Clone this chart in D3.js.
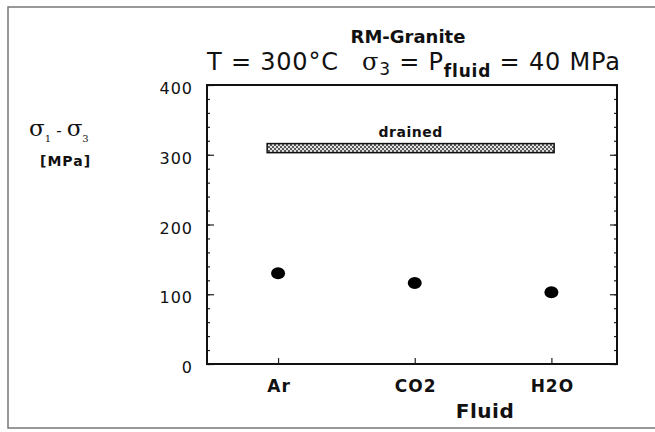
<!DOCTYPE html>
<html>
<head>
<meta charset="utf-8">
<script src="https://cdn.jsdelivr.net/npm/d3@7"></script>
<style>
  body { margin: 0; background: #fff; }
  svg text { font-family: "DejaVu Sans", "Liberation Sans", sans-serif; fill: #111; white-space: pre; }
</style>
</head>
<body>
<svg id="chart" width="655" height="432"></svg>
<script>
// data
var fluids = ["Ar", "CO2", "H2O"];
var strength = [130, 116, 103];      // sigma1 - sigma3 [MPa]
var drained = [303, 316];            // drained band, MPa
var drainedSpan = [-0.08, 2.02];     // in category units
var yTicks = [0, 100, 200, 300, 400];

var svg = d3.select("#chart");
var margin = {top: 85, right: 38, bottom: 68, left: 207},
    width = 655 - margin.left - margin.right,
    height = 432 - margin.top - margin.bottom;

// outer frame of the scanned figure
svg.append("rect")
    .attr("x", 8).attr("y", 7)
    .attr("width", 660).attr("height", 421)
    .attr("fill", "none")
    .attr("stroke", "#777")
    .attr("stroke-width", 1.5);

var defs = svg.append("defs");
var pat = defs.append("pattern")
    .attr("id", "hatch")
    .attr("patternUnits", "userSpaceOnUse")
    .attr("width", 4).attr("height", 4);
pat.append("rect").attr("width", 4).attr("height", 4).attr("fill", "#e4e4e4");
pat.append("path").attr("d", "M0,0L4,4M4,0L0,4").attr("stroke", "#4a4a4a").attr("stroke-width", 0.9);

var g = svg.append("g").attr("transform", "translate(" + margin.left + "," + margin.top + ")");

var x = d3.scaleLinear().domain([-0.52, 2.48]).range([0, width]);
var y = d3.scaleLinear().domain([0, 400]).range([height, 0]);

function noDomain(s) { s.select(".domain").remove(); }

// minor ticks on both y sides
var minor = d3.range(0, 401, 20);
g.append("g").call(d3.axisRight(y).tickValues(minor).tickSize(3).tickFormat("")).call(noDomain);
g.append("g").attr("transform", "translate(" + width + ",0)")
    .call(d3.axisLeft(y).tickValues(minor).tickSize(3).tickFormat("")).call(noDomain);

// major y ticks (inside) and labels
g.append("g").call(d3.axisRight(y).tickValues(yTicks).tickSize(7).tickFormat("")).call(noDomain);
g.append("g").attr("transform", "translate(" + width + ",0)")
    .call(d3.axisLeft(y).tickValues(yTicks).tickSize(7).tickFormat("")).call(noDomain);
g.selectAll(".ylab").data(yTicks).enter().append("text")
    .attr("class", "ylab")
    .attr("x", -14)
    .attr("y", function(d) { return y(d) + 9; })
    .attr("text-anchor", "end")
    .style("font-size", "16px")
    .style("letter-spacing", "1px")
    .text(function(d) { return d; });

// x ticks (inside) and labels
g.append("g").attr("transform", "translate(0," + height + ")")
    .call(d3.axisTop(x).tickValues(d3.range(fluids.length)).tickSize(6).tickFormat("")).call(noDomain);
g.selectAll(".xlab").data(fluids).enter().append("text")
    .attr("class", "xlab")
    .attr("x", function(d, i) { return x(i) + 1; })
    .attr("y", height + 28)
    .attr("text-anchor", "middle")
    .style("font-size", "17px")
    .style("font-weight", "bold")
    .style("letter-spacing", "1px")
    .text(function(d) { return d; });

g.selectAll(".tick line").attr("stroke", "#222").attr("stroke-width", 1.2);

// frame
g.append("rect")
    .attr("width", width).attr("height", height)
    .attr("fill", "none")
    .attr("stroke", "#111")
    .attr("stroke-width", 2);

// drained band
g.append("rect")
    .attr("x", x(drainedSpan[0]))
    .attr("y", y(drained[1]))
    .attr("width", x(drainedSpan[1]) - x(drainedSpan[0]))
    .attr("height", y(drained[0]) - y(drained[1]))
    .attr("fill", "url(#hatch)")
    .attr("stroke", "#111")
    .attr("stroke-width", 1.5);
g.append("text")
    .attr("x", x((drainedSpan[0] + drainedSpan[1]) / 2))
    .attr("y", y(drained[1]) - 7)
    .attr("text-anchor", "middle")
    .style("font-size", "14px")
    .style("font-weight", "bold")
    .style("letter-spacing", "0.5px")
    .text("drained");

// data points
g.selectAll(".dot").data(strength).enter().append("ellipse")
    .attr("class", "dot")
    .attr("cx", function(d, i) { return x(i); })
    .attr("cy", function(d) { return y(d); })
    .attr("rx", 7).attr("ry", 6)
    .attr("fill", "#000");

// titles
svg.append("text")
    .attr("x", 408).attr("y", 43)
    .attr("text-anchor", "middle")
    .style("font-size", "18px")
    .style("font-weight", "bold")
    .text("RM-Granite");

svg.append("text")
    .attr("x", 207).attr("y", 70)
    .style("font-size", "24px")
    .style("letter-spacing", "0.8px")
    .text("T = 300\u00B0C");

var sub = svg.append("text")
    .attr("x", 362).attr("y", 70)
    .style("font-size", "24px")
    .style("letter-spacing", "0.8px");
sub.append("tspan").style("font-family", "'DejaVu Serif', serif").text("\u03C3");
sub.append("tspan").attr("dy", 5).style("font-size", "17px").text("3");
sub.append("tspan").attr("dy", -5).text(" = P");
sub.append("tspan").attr("dy", 7).style("font-size", "17px").style("font-weight", "bold").text("fluid");
sub.append("tspan").attr("dy", -7).text(" = 40 MPa");

// y axis label
var yl = svg.append("text")
    .attr("x", 29).attr("y", 136)
    .style("font-size", "23px")
    .style("font-family", "'DejaVu Serif', serif");
yl.append("tspan").text("\u03C3");
yl.append("tspan").attr("dy", 6).style("font-size", "10px").text("1");
yl.append("tspan").attr("dy", -6).style("font-size", "16px").text(" - ");
yl.append("tspan").text("\u03C3");
yl.append("tspan").attr("dy", 6).style("font-size", "10px").text("3");

svg.append("text")
    .attr("x", 40).attr("y", 166)
    .style("font-size", "14px")
    .style("font-weight", "bold")
    .style("letter-spacing", "1px")
    .text("[MPa]");

// x axis title
svg.append("text")
    .attr("x", 485).attr("y", 418)
    .attr("text-anchor", "middle")
    .style("font-size", "20px")
    .style("font-weight", "bold")
    .style("letter-spacing", "0.5px")
    .text("Fluid");
</script>
</body>
</html>
